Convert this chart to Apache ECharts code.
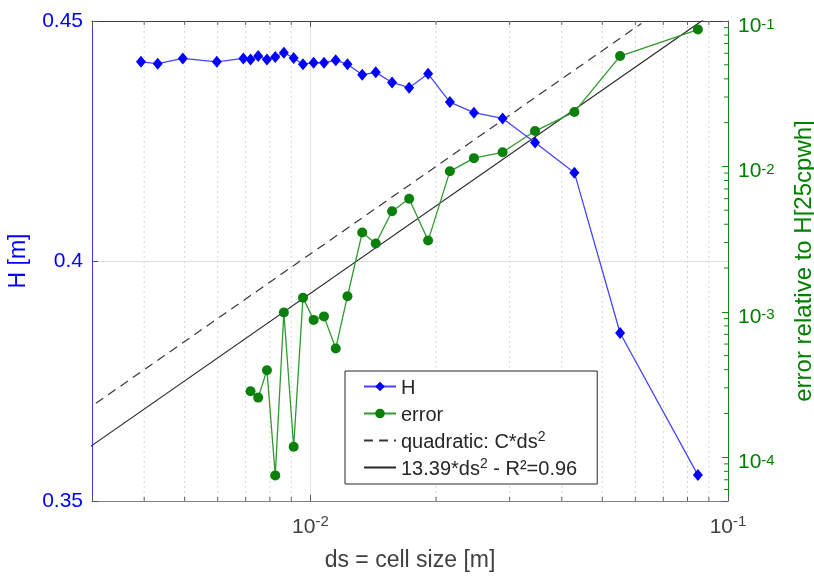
<!DOCTYPE html>
<html>
<head>
<meta charset="utf-8">
<script src="https://cdn.jsdelivr.net/npm/echarts@6/dist/echarts.min.js"></script>
<style>
  html, body { margin: 0; padding: 0; background: #ffffff; }
  #chart { width: 814px; height: 577px; }
</style>
</head>
<body>
<div id="chart"></div>
<script>
// Grid convergence: water depth H and its relative error versus cell size ds
const cellSize = [0.00393, 0.00431, 0.00495, 0.00597, 0.00691, 0.00719, 0.00750, 0.00787,
                  0.00824, 0.00864, 0.00912, 0.00960, 0.01018, 0.01078, 0.01150, 0.01227,
                  0.01331, 0.01434, 0.01569, 0.01724, 0.01914, 0.02158, 0.02464, 0.02886,
                  0.03451, 0.04287, 0.05516, 0.08472];
const depthH = [0.4415, 0.4411, 0.4422, 0.4415, 0.4422, 0.4420, 0.4427, 0.4420,
                0.4425, 0.4434, 0.4423, 0.4410, 0.4413, 0.4413, 0.4418, 0.4410,
                0.4388, 0.4393, 0.4372, 0.4361, 0.4390, 0.4331, 0.4309, 0.4297,
                0.4247, 0.4184, 0.3850, 0.3554];
// relative error exists from the 6th cell size onwards
const errorFirstIndex = 5;
const relError = [2.84e-4, 2.57e-4, 3.96e-4, 7.5e-5, 9.9e-4, 1.18e-4, 1.25e-3, 8.8e-4,
                  9.3e-4, 5.6e-4, 1.28e-3, 3.51e-3, 2.95e-3, 4.91e-3, 6.0e-3, 3.09e-3,
                  9.25e-3, 1.14e-2, 1.25e-2, 1.75e-2, 2.37e-2, 5.74e-2, 8.73e-2];

// reference slopes
const fitCoef = 13.39;
const quadCoef = 25;
const fitRange = [0.0025, 0.1];
const quadRange = [0.0025, 0.062];

// axes
const xExtent = [0.003, 0.1];
const hExtent = [0.35, 0.45];
const hTickLabels = { '0.35': '0.35', '0.4': '0.4', '0.45': '0.45' };
const errExtent = [5e-5, 0.1];

const legendNames = ['H', 'error', 'quadratic', 'fit'];
const legendLabels = {
  H: '{t|H}',
  error: '{t|error}',
  quadratic: '{t|quadratic: C*ds}{s|2}',
  fit: '{t|13.39*ds}{s|2}{t| - R\u00b2=0.96}'
};

const FONT = '"Liberation Sans", Arial, Helvetica, sans-serif';

const hPoints = cellSize.map((d, i) => [d, depthH[i]]);
const errPoints = relError.map((e, i) => [cellSize[i + errorFirstIndex], e]);
const fitPoints = fitRange.map(d => [d, fitCoef * d * d]);
const quadPoints = quadRange.map(d => [d, quadCoef * d * d]);

// minor decade positions (2..9 times a power of ten) inside an extent
function minorPositions(extent) {
  const out = [];
  const lo = Math.floor(Math.log10(extent[0]));
  const hi = Math.ceil(Math.log10(extent[1]));
  for (let p = lo; p < hi; p++) {
    for (let k = 2; k <= 9; k++) {
      const v = +(k * Math.pow(10, p)).toPrecision(3);
      if (v > extent[0] * 1.0001 && v < extent[1] * 0.9999) out.push(v);
    }
  }
  return out;
}
const minorX = minorPositions(xExtent);
const minorErr = minorPositions(errExtent);

function powLabel(v) {
  const lg = Math.log10(v);
  const e = Math.round(lg);
  if (Math.abs(lg - e) > 1e-6) return '';
  return '{b|10}{e|' + e + '}';
}

const chart = echarts.init(document.getElementById('chart'), null, { renderer: 'canvas' });

chart.setOption({
  animation: false,
  backgroundColor: '#ffffff',
  textStyle: { fontFamily: FONT },
  grid: { left: 92, right: 86, top: 21, bottom: 76, containLabel: false, outerBoundsMode: 'none' },
  legend: {
    data: legendNames,
    orient: 'vertical',
    left: 345,
    top: 371,
    padding: [4, 20, 5, 18],
    itemWidth: 32,
    itemHeight: 12,
    itemGap: 4,
    selectedMode: false,
    borderColor: '#262626',
    borderWidth: 1,
    backgroundColor: '#ffffff',
    formatter: name => legendLabels[name],
    textStyle: {
      fontFamily: FONT,
      color: '#262626',
      rich: {
        t: { fontFamily: FONT, fontSize: 20, color: '#262626', lineHeight: 21, padding: [3, 0, 0, 0] },
        s: { fontFamily: FONT, fontSize: 14, color: '#262626', lineHeight: 14, verticalAlign: 'top' }
      }
    }
  },
  xAxis: [
    {
      type: 'log',
      logBase: 10,
      min: xExtent[0],
      max: xExtent[1],
      position: 'bottom',
      name: 'ds = cell size [m]',
      nameLocation: 'middle',
      nameGap: 48,
      nameTextStyle: { fontFamily: FONT, fontSize: 23, color: '#404040' },
      axisLine: { show: true, lineStyle: { color: '#808080', width: 1 } },
      axisTick: { show: true, inside: true, length: 6, lineStyle: { color: '#555555' } },
      axisLabel: {
        margin: 13,
        formatter: powLabel,
        rich: {
          b: { fontFamily: FONT, fontSize: 21, color: '#404040', lineHeight: 22, padding: [4, 0, 0, 0] },
          e: { fontFamily: FONT, fontSize: 15, color: '#404040', lineHeight: 15, verticalAlign: 'top' }
        }
      },
      splitLine: { show: true, lineStyle: { color: '#e2e2e2', width: 1 } },
      minorTick: { show: false },
      minorSplitLine: { show: false }
    },
    {
      type: 'log',
      logBase: 10,
      min: xExtent[0],
      max: xExtent[1],
      position: 'top',
      axisLine: { show: true, lineStyle: { color: '#404040', width: 1 } },
      axisTick: { show: true, inside: true, length: 6, lineStyle: { color: '#555555' } },
      axisLabel: { show: false },
      splitLine: { show: false }
    }
  ],
  yAxis: [
    {
      type: 'value',
      min: hExtent[0],
      max: hExtent[1],
      interval: 0.05,
      position: 'left',
      name: 'H [m]',
      nameLocation: 'middle',
      nameRotate: 90,
      nameGap: 62,
      nameTextStyle: { fontFamily: FONT, fontSize: 23, color: '#0000ff' },
      axisLine: { show: true, lineStyle: { color: '#3a3aff', width: 1 } },
      axisTick: { show: true, inside: true, length: 6, lineStyle: { color: '#3a3aff' } },
      axisLabel: {
        margin: 9,
        fontFamily: FONT,
        fontSize: 21,
        color: '#0000ff',
        padding: [4, 0, 0, 0],
        formatter: v => hTickLabels[String(+v.toFixed(2))] || ''
      },
      splitLine: { show: true, lineStyle: { color: '#dedede', width: 1 } }
    },
    {
      type: 'log',
      logBase: 10,
      min: errExtent[0],
      max: errExtent[1],
      position: 'right',
      name: 'error relative to H[25cpwh]',
      nameLocation: 'middle',
      nameRotate: 90,
      nameGap: 64,
      nameTextStyle: { fontFamily: FONT, fontSize: 24, color: '#008000' },
      axisLine: { show: true, lineStyle: { color: '#138a13', width: 1 } },
      axisTick: { show: true, inside: true, length: 6, lineStyle: { color: '#138a13' } },
      axisLabel: {
        margin: 10,
        formatter: powLabel,
        rich: {
          b: { fontFamily: FONT, fontSize: 21, color: '#008000', lineHeight: 22, padding: [10, 0, 0, 0] },
          e: { fontFamily: FONT, fontSize: 15, color: '#008000', lineHeight: 15, verticalAlign: 'top', padding: [7, 0, 0, 0] }
        }
      },
      splitLine: { show: false }
    }
  ],
  series: [
    {
      // dotted minor grid with small ticks on the bottom and top edges
      type: 'custom',
      name: 'minorX',
      xAxisIndex: 0,
      yAxisIndex: 1,
      silent: true,
      z: 1,
      data: minorX.map(v => [v, 1e-3]),
      renderItem: (params, api) => {
        const cs = params.coordSys;
        const x = api.coord([api.value(0), api.value(1)])[0];
        const top = cs.y, bot = cs.y + cs.height;
        return {
          type: 'group',
          children: [
            { type: 'line', shape: { x1: x, y1: top, x2: x, y2: bot },
              style: { stroke: '#d4d4d4', lineWidth: 1, lineDash: [2, 3] } },
            { type: 'line', shape: { x1: x, y1: bot, x2: x, y2: bot - 4 },
              style: { stroke: '#606060', lineWidth: 1 } },
            { type: 'line', shape: { x1: x, y1: top, x2: x, y2: top + 4 },
              style: { stroke: '#606060', lineWidth: 1 } }
          ]
        };
      }
    },
    {
      // minor ticks on the right (error) axis
      type: 'custom',
      name: 'minorErr',
      xAxisIndex: 0,
      yAxisIndex: 1,
      silent: true,
      z: 3,
      data: minorErr.map(v => [0.01, v]),
      renderItem: (params, api) => {
        const cs = params.coordSys;
        const y = api.coord([api.value(0), api.value(1)])[1];
        const xr = cs.x + cs.width;
        return { type: 'line', shape: { x1: xr - 4, y1: y, x2: xr, y2: y },
                 style: { stroke: '#138a13', lineWidth: 1 } };
      }
    },
    {
      name: 'quadratic',
      type: 'line',
      xAxisIndex: 0,
      yAxisIndex: 1,
      data: quadPoints,
      symbol: 'none',
      clip: true,
      silent: true,
      z: 2,
      itemStyle: { color: '#383838', opacity: 0 },
      lineStyle: { color: '#383838', width: 1.2, type: [9, 6] }
    },
    {
      name: 'fit',
      type: 'line',
      xAxisIndex: 0,
      yAxisIndex: 1,
      data: fitPoints,
      symbol: 'none',
      clip: true,
      silent: true,
      z: 2,
      itemStyle: { color: '#262626', opacity: 0 },
      lineStyle: { color: '#262626', width: 1.2 }
    },
    {
      name: 'error',
      type: 'line',
      xAxisIndex: 0,
      yAxisIndex: 1,
      data: errPoints,
      symbol: 'circle',
      symbolSize: 10,
      clip: true,
      z: 4,
      itemStyle: { color: '#0a800a' },
      lineStyle: { color: '#2f9a2f', width: 1.3 }
    },
    {
      name: 'H',
      type: 'line',
      xAxisIndex: 0,
      yAxisIndex: 0,
      data: hPoints,
      symbol: 'diamond',
      symbolSize: [10, 12],
      clip: true,
      z: 5,
      itemStyle: { color: '#0000ff' },
      lineStyle: { color: '#4646ff', width: 1.3 }
    }
  ]
});
</script>
</body>
</html>
